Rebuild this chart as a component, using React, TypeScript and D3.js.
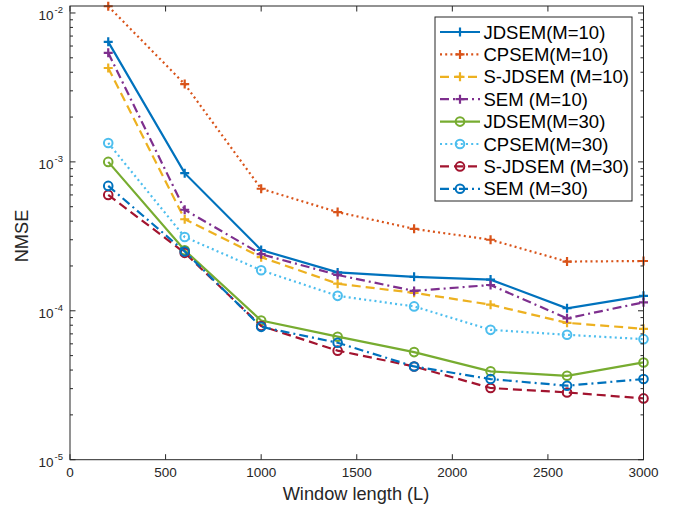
import React from "react";
import * as d3 from "d3";

const windowLengths = [200, 600, 1000, 1400, 1800, 2200, 2600, 3000];
const seriesNames = [
  "JDSEM(M=10)",
  "CPSEM(M=10)",
  "S-JDSEM (M=10)",
  "SEM (M=10)",
  "JDSEM(M=30)",
  "CPSEM(M=30)",
  "S-JDSEM (M=30)",
  "SEM (M=30)",
];
const jdsem10 = [6.4e-3, 8.4e-4, 2.56e-4, 1.81e-4, 1.69e-4, 1.62e-4, 1.04e-4, 1.26e-4];
const cpsem10 = [1.11e-2, 3.33e-3, 6.6e-4, 4.6e-4, 3.55e-4, 3.0e-4, 2.14e-4, 2.16e-4];
const sjdsem10 = [4.27e-3, 4.12e-4, 2.29e-4, 1.52e-4, 1.32e-4, 1.1e-4, 8.3e-5, 7.57e-5];
const sem10 = [5.4e-3, 4.77e-4, 2.4e-4, 1.74e-4, 1.36e-4, 1.49e-4, 8.9e-5, 1.14e-4];
const jdsem30 = [1.0e-3, 2.55e-4, 8.6e-5, 6.7e-5, 5.28e-5, 3.92e-5, 3.66e-5, 4.5e-5];
const cpsem30 = [1.34e-3, 3.13e-4, 1.87e-4, 1.26e-4, 1.07e-4, 7.45e-5, 6.9e-5, 6.45e-5];
const sjdsem30 = [6.0e-4, 2.45e-4, 7.9e-5, 5.4e-5, 4.23e-5, 3.03e-5, 2.83e-5, 2.58e-5];
const sem30 = [6.9e-4, 2.5e-4, 7.8e-5, 6.1e-5, 4.23e-5, 3.48e-5, 3.14e-5, 3.48e-5];
const xTicks = [0, 500, 1000, 1500, 2000, 2500, 3000];
const yDecades = [-5, -4, -3, -2];

const seriesValues = [jdsem10, cpsem10, sjdsem10, sem10, jdsem30, cpsem30, sjdsem30, sem30];
const colors = ["#0072BD", "#D95319", "#EDB120", "#7E2F8E", "#77AC30", "#4DBEEE", "#A2142F", "#0072BD"];
const dashes = ["", "2,3.2", "9,5", "9,4,2,4", "", "2,3.2", "9,5", "9,4,2,4"];
const markers = ["plus", "plus", "plus", "plus", "circle", "circle", "circle", "circle"];

const W = 676, H = 506;
const L = 70, R = 643.5, T = 6, B = 459.7;
const axisColor = "#262626";
const font = "'Liberation Sans', Arial, Helvetica, sans-serif";

function Marker({ type, x, y, color }: { type: string; x: number; y: number; color: string }) {
  if (type === "plus") {
    const s = 4.5;
    return (
      <path d={`M${x - s},${y}H${x + s}M${x},${y - s}V${y + s}`} stroke={color} strokeWidth={2.2} fill="none" />
    );
  }
  return <circle cx={x} cy={y} r={4.3} stroke={color} strokeWidth={2} fill="none" />;
}

export default function App() {
  const x = d3.scaleLinear().domain([0, 3000]).range([L, R]);
  const y = d3.scaleLog().domain([1e-5, 1.114e-2]).range([B, T]);
  const line = d3
    .line<number>()
    .x((_, i) => x(windowLengths[i]))
    .y((d) => y(d));

  const minorTicks: number[] = [];
  for (const e of yDecades) {
    for (let k = 2; k <= 9; k++) {
      const v = k * Math.pow(10, e);
      if (v <= 1.114e-2) minorTicks.push(v);
    }
  }

  const legX = 435, legY = 17, legW = 197, legH = 184;
  const rowH = 22.4;

  return (
    <svg width={W} height={H} style={{ position: "absolute", left: 0, top: 0, display: "block", background: "#fff" }} fontFamily={font}>
      <rect x={0} y={0} width={W} height={H} fill="#fff" />
      {/* series */}
      {seriesValues.map((vals, si) => (
        <g key={si}>
          <path d={line(vals) || ""} fill="none" stroke={colors[si]} strokeWidth={2.2} strokeDasharray={dashes[si]} />
          {vals.map((v, i) => (
            <Marker key={i} type={markers[si]} x={x(windowLengths[i])} y={y(v)} color={colors[si]} />
          ))}
        </g>
      ))}
      {/* axes box */}
      <rect x={L} y={T} width={R - L} height={B - T} fill="none" stroke={axisColor} strokeWidth={1} />
      {/* x ticks */}
      {xTicks.map((t) => (
        <g key={t}>
          <line x1={x(t)} x2={x(t)} y1={B} y2={B - 5.5} stroke={axisColor} />
          <line x1={x(t)} x2={x(t)} y1={T} y2={T + 5.5} stroke={axisColor} />
          <text x={x(t)} y={477} fontSize={13.5} textAnchor="middle" fill={axisColor}>
            {t}
          </text>
        </g>
      ))}
      {/* y major ticks */}
      {yDecades.map((e) => {
        const yy = y(Math.pow(10, e));
        return (
          <g key={e}>
            <line x1={L} x2={L + 5.5} y1={yy} y2={yy} stroke={axisColor} />
            <line x1={R} x2={R - 5.5} y1={yy} y2={yy} stroke={axisColor} />
            <text x={53.5} y={yy + 7} fontSize={13.5} textAnchor="end" fill={axisColor}>
              10
            </text>
            <text x={54.5} y={yy + 0.5} fontSize={9.5} textAnchor="start" fill={axisColor}>
              {`-${-e}`}
            </text>
          </g>
        );
      })}
      {/* y minor ticks */}
      {minorTicks.map((v, i) => {
        const yy = y(v);
        return (
          <g key={i}>
            <line x1={L} x2={L + 3} y1={yy} y2={yy} stroke={axisColor} />
            <line x1={R} x2={R - 3} y1={yy} y2={yy} stroke={axisColor} />
          </g>
        );
      })}
      {/* axis labels */}
      <text x={356} y={500} fontSize={18.2} textAnchor="middle" fill={axisColor}>
        Window length (L)
      </text>
      <text transform="translate(28,236) rotate(-90)" fontSize={18.2} textAnchor="middle" fill={axisColor}>
        NMSE
      </text>
      {/* legend */}
      <rect x={legX} y={legY} width={legW} height={legH} fill="#fff" stroke={axisColor} strokeWidth={1} />
      {seriesNames.map((name, si) => {
        const cy = 32 + si * rowH;
        return (
          <g key={si}>
            <line x1={440} x2={480} y1={cy} y2={cy} stroke={colors[si]} strokeWidth={2.2} strokeDasharray={dashes[si]} />
            <Marker type={markers[si]} x={460} y={cy} color={colors[si]} />
            <text x={483.5} y={cy + 6.5} fontSize={18.5} fill="#000">
              {name}
            </text>
          </g>
        );
      })}
    </svg>
  );
}
